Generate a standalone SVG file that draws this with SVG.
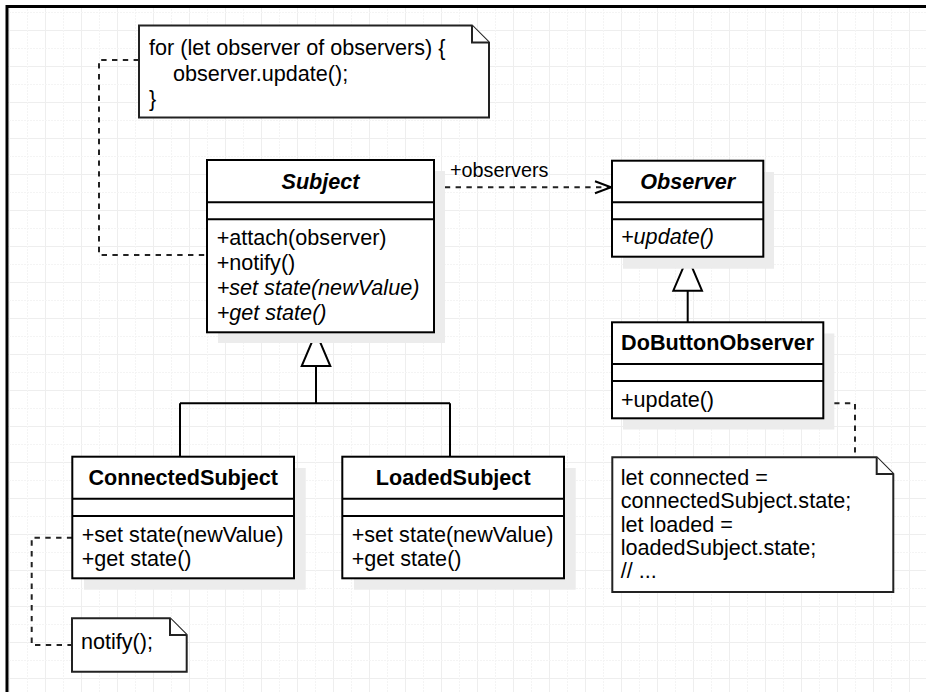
<svg xmlns="http://www.w3.org/2000/svg" width="926" height="692" viewBox="0 0 926 692">
<style>
  .box{fill:#fff;stroke:#000;stroke-width:2}
  .shadow{fill:#ececec;stroke:none}
  .div{stroke:#000;stroke-width:2;fill:none}
  .note{fill:#fff;stroke:#222;stroke-width:2;stroke-linejoin:miter}
  .t{font-family:"Liberation Sans",Arial,sans-serif;font-size:21.6px;fill:#000}
  .title{font-weight:bold;text-anchor:middle}
  .it{font-style:italic}
  .lbl{font-family:"Liberation Sans",Arial,sans-serif;font-size:19.8px;fill:#000}
  .edge{fill:none;stroke:#000;stroke-width:2}
  .dash{stroke-dasharray:5.4 5.4;stroke:#222}
  .gen{fill:#fff;stroke:#000;stroke-width:2;stroke-linejoin:miter}
</style>
<defs>
  <pattern id="grid" x="9" y="12" width="36" height="36" patternUnits="userSpaceOnUse">
    <path d="M0.5,0 V36 M0,18.5 H36" stroke="#eeeeee" stroke-width="1" fill="none"/>
    <path d="M18.5,0 V36 M0,0.5 H36" stroke="#f4f4f4" stroke-width="1" stroke-dasharray="2 1" fill="none"/>
  </pattern>
  <marker id="open" markerWidth="20" markerHeight="16" refX="17" refY="7" orient="auto" markerUnits="userSpaceOnUse">
    <path d="M1,1 L17,7 L1,13" fill="none" stroke="#000" stroke-width="2"/>
  </marker>
</defs>
<rect x="0" y="0" width="926" height="692" fill="#fff"/>
<rect x="8" y="8" width="918" height="684" fill="url(#grid)"/>
<path d="M7,692 V6.5 H926" fill="none" stroke="#000" stroke-width="3"/>

<g id="connectors">
  <path class="edge dash" d="M139,60 H99 V255 H207"/>
  <path class="edge dash" d="M434,187.3 H611" marker-end="url(#open)"/>
  <path class="edge" d="M687.7,290.7 V322.3"/>
  <path class="gen" d="M687.7,257 L702,290.7 L673.3,290.7 Z"/>
  <path class="edge" d="M316,366 V403.3 M180,403.3 H450 M180,403.3 V456.7 M450,403.3 V456.7"/>
  <path class="gen" d="M316,332.3 L330.3,366 L301.7,366 Z"/>
  <path class="edge dash" d="M72.3,537.7 H31.7 V645 H72"/>
  <path class="edge dash" d="M823.3,403.3 H855 V457.3"/>
</g>

<g id="noteLoop">
  <path class="note" d="M139,25.5 H472 L489,42.5 V117.5 H139 Z"/>
  <path class="note" d="M472,25.5 V42.5 H489" fill="none"/>
  <text class="t" x="149" y="55">for (let observer of observers) {</text>
  <text class="t" x="173" y="80.5">observer.update();</text>
  <text class="t" x="149" y="106">}</text>
</g>

<g id="Subject">
  <rect class="shadow" x="218" y="171" width="227" height="172"/>
  <rect class="box" x="207" y="160" width="227" height="172.3"/>
  <path class="div" d="M207,202.3 H434 M207,219.3 H434"/>
  <text class="t title it" x="320.5" y="189">Subject</text>
  <text class="t" x="216.7" y="245">+attach(observer)</text>
  <text class="t" x="216.7" y="270">+notify()</text>
  <text class="t it" x="216.7" y="295">+set state(newValue)</text>
  <text class="t it" x="216.7" y="320">+get state()</text>
</g>

<text class="lbl" x="450" y="176.7">+observers</text>

<g id="Observer">
  <rect class="shadow" x="623" y="172" width="151" height="96.7"/>
  <rect class="box" x="612" y="160.7" width="151.3" height="96"/>
  <path class="div" d="M612,202.3 H763.3 M612,219.3 H763.3"/>
  <text class="t title it" x="687.7" y="189">Observer</text>
  <text class="t it" x="621" y="244">+update()</text>
</g>

<g id="DoButtonObserver">
  <rect class="shadow" x="623" y="333.5" width="211.3" height="96"/>
  <rect class="box" x="612" y="322.3" width="211.3" height="96"/>
  <path class="div" d="M612,364 H823.3 M612,381 H823.3"/>
  <text class="t title" x="717.7" y="350">DoButtonObserver</text>
  <text class="t" x="621" y="406.7">+update()</text>
</g>

<g id="ConnectedSubject">
  <rect class="shadow" x="84" y="468" width="221.7" height="121.7"/>
  <rect class="box" x="72.3" y="456.7" width="221.7" height="121.6"/>
  <path class="div" d="M72.3,498.7 H294 M72.3,516 H294"/>
  <text class="t title" x="183.2" y="485">ConnectedSubject</text>
  <text class="t" x="81.7" y="541.7">+set state(newValue)</text>
  <text class="t" x="81.7" y="565.7">+get state()</text>
</g>

<g id="LoadedSubject">
  <rect class="shadow" x="354" y="468" width="221.7" height="121.7"/>
  <rect class="box" x="342.3" y="456.7" width="221.7" height="121.6"/>
  <path class="div" d="M342.3,498.7 H564 M342.3,516 H564"/>
  <text class="t title" x="453.2" y="485">LoadedSubject</text>
  <text class="t" x="351.7" y="541.7">+set state(newValue)</text>
  <text class="t" x="351.7" y="565.7">+get state()</text>
</g>

<g id="noteNotify">
  <path class="note" d="M72,618.3 H170 L186.7,635 V671.7 H72 Z"/>
  <path class="note" d="M170,618.3 V635 H186.7" fill="none"/>
  <text class="t" x="81" y="649">notify();</text>
</g>

<g id="noteState">
  <path class="note" d="M612.3,457.3 H876.7 L893.3,474 V592 H612.3 Z"/>
  <path class="note" d="M876.7,457.3 V474 H893.3" fill="none"/>
  <text class="t" x="620.7" y="485">let connected =</text>
  <text class="t" x="620.7" y="508.3">connectedSubject.state;</text>
  <text class="t" x="620.7" y="531.7">let loaded =</text>
  <text class="t" x="620.7" y="555">loadedSubject.state;</text>
  <text class="t" x="620.7" y="578.3">// ...</text>
</g>
</svg>
